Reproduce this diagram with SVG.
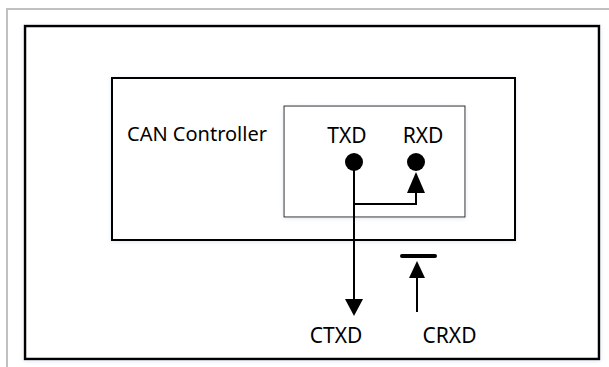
<svg xmlns="http://www.w3.org/2000/svg" width="609" height="367" viewBox="0 0 609 367">
<defs>
<style>
.t{font-family:"Noto Sans","Liberation Sans",sans-serif;font-size:20px;fill:#000}
.p{font-size:21px}
.ln{stroke:#000;stroke-width:2;fill:none}
</style>
<filter id="sh" x="-5%" y="-5%" width="110%" height="110%">
<feDropShadow dx="0" dy="1" stdDeviation="2" flood-color="#b9cde3" flood-opacity="0.45"/>
</filter>
</defs>
<rect width="609" height="367" fill="#fff"/>
<rect x="7" y="9" width="700" height="500" fill="none" stroke="#c0c0c0" stroke-width="2"/>
<g id="outer">
<rect x="25" y="26" width="574" height="333" fill="#fff" stroke="#000" stroke-width="2.5" filter="url(#sh)"/>
</g>
<g id="can-controller">
<rect x="112" y="78" width="403" height="162" fill="#fff" stroke="#000" stroke-width="2" filter="url(#sh)"/>
<text class="t" x="127" y="141">CAN Controller</text>
</g>
<g id="pins">
<rect x="284" y="106" width="181" height="111" fill="#fff" stroke="#222" stroke-width="1" filter="url(#sh)"/>
<text class="t p" x="347" y="143" text-anchor="middle">TXD</text>
<text class="t p" x="423" y="143" text-anchor="middle">RXD</text>
</g>
<g id="txd-dot"><circle cx="354" cy="162" r="9" fill="#000"/></g>
<g id="rxd-dot"><circle cx="416" cy="162" r="9" fill="#000"/></g>
<g id="connectors">
<path class="ln" d="M354 162 V300"/>
<polygon points="345,299 363,299 354,316" fill="#000"/>
<path class="ln" d="M354 204 H416 V190"/>
<polygon points="407,193 425,193 416,172" fill="#000"/>
<path class="ln" d="M417 312 V275"/>
<polygon points="409,278 425,278 417,261" fill="#000"/>
<line x1="402" y1="256" x2="435" y2="256" stroke="#000" stroke-width="4" stroke-linecap="round"/>
</g>
<g id="ctxd"><text class="t p" x="336" y="343" text-anchor="middle">CTXD</text></g>
<g id="crxd"><text class="t p" x="449.5" y="343" text-anchor="middle">CRXD</text></g>
</svg>
